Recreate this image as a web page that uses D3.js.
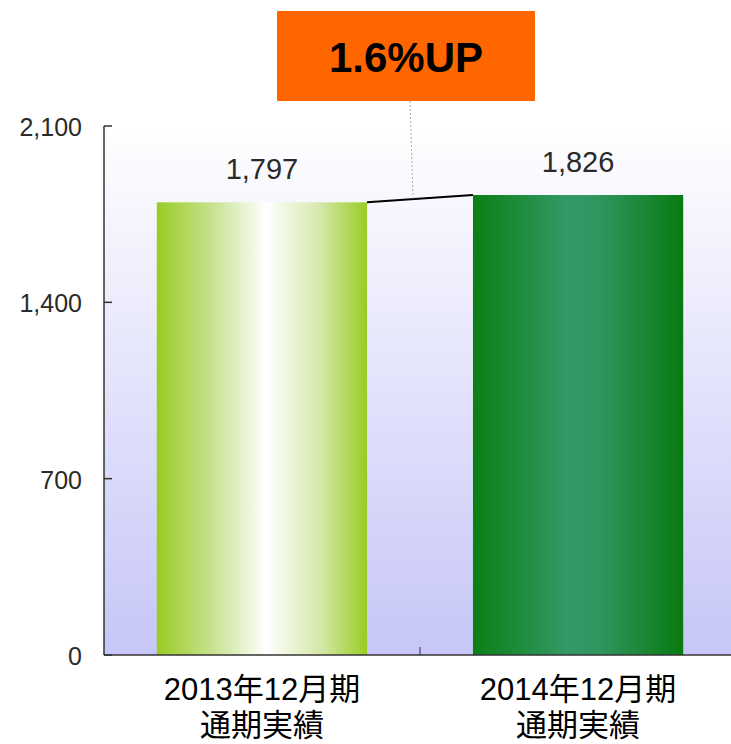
<!DOCTYPE html>
<html>
<head>
<meta charset="utf-8">
<script src="https://cdn.jsdelivr.net/npm/d3@7"></script>
<style>
  body { margin: 0; background: #fff; }
  svg { display: block; }
</style>
</head>
<body>
<div id="myGraph"></div>
<script>
// データ
var categories = ["2013年12月期\n通期実績", "2014年12月期\n通期実績"];
var values = [1797, 1826];
var valueLabels = ["1,797", "1,826"];
var tickValues = [0, 700, 1400, 2100];
var badgeText = "1.6%UP";

var width = 731, height = 744;
var x0 = 104, x1 = 736, yTop = 126, yBottom = 655;

var svg = d3.select("#myGraph").append("svg")
    .attr("width", width)
    .attr("height", height);

var x = d3.scaleBand().domain(categories).range([x0, x1]).paddingInner(0.335).paddingOuter(0.167);
var y = d3.scaleLinear().domain([0, 2100]).range([yBottom, yTop]);

var defs = svg.append("defs");
var bg = defs.append("linearGradient").attr("id", "bg").attr("x1", 0).attr("y1", 0).attr("x2", 0).attr("y2", 1);
bg.append("stop").attr("offset", "0%").attr("stop-color", "#ffffff");
bg.append("stop").attr("offset", "100%").attr("stop-color", "#c6c6f8");

var g1 = defs.append("linearGradient").attr("id", "bar0");
g1.append("stop").attr("offset", "0%").attr("stop-color", "#99cc22");
g1.append("stop").attr("offset", "25%").attr("stop-color", "#c4e08a");
g1.append("stop").attr("offset", "52%").attr("stop-color", "#ffffff");
g1.append("stop").attr("offset", "78%").attr("stop-color", "#d4e8a8");
g1.append("stop").attr("offset", "100%").attr("stop-color", "#99cc22");

var g2 = defs.append("linearGradient").attr("id", "bar1");
g2.append("stop").attr("offset", "0%").attr("stop-color", "#0b7f14");
g2.append("stop").attr("offset", "45%").attr("stop-color", "#339966");
g2.append("stop").attr("offset", "60%").attr("stop-color", "#31955f");
g2.append("stop").attr("offset", "100%").attr("stop-color", "#087a10");

// 背景
svg.append("rect")
    .attr("x", x0).attr("y", yTop)
    .attr("width", width - x0).attr("height", yBottom - yTop)
    .attr("fill", "url(#bg)");

// 棒
svg.selectAll(".bar")
    .data(values)
    .enter().append("rect")
    .attr("class", "bar")
    .attr("x", function(d, i) { return x(categories[i]); })
    .attr("y", function(d) { return y(d); })
    .attr("width", x.bandwidth())
    .attr("height", function(d) { return y(0) - y(d); })
    .attr("fill", function(d, i) { return "url(#bar" + i + ")"; });

// 値ラベル
svg.selectAll(".val")
    .data(values)
    .enter().append("text")
    .attr("x", function(d, i) { return x(categories[i]) + x.bandwidth() / 2; })
    .attr("y", function(d) { return y(d) - 23; })
    .attr("text-anchor", "middle")
    .attr("font-family", "Liberation Sans, sans-serif")
    .attr("font-size", 29)
    .attr("fill", "#2a2a2a")
    .text(function(d, i) { return valueLabels[i]; });

// y軸
var yAxis = svg.append("g");
yAxis.append("line").attr("x1", x0).attr("x2", x0).attr("y1", yTop).attr("y2", yBottom)
    .attr("stroke", "#333").attr("stroke-width", 1.5);
yAxis.selectAll(".tk").data(tickValues).enter().append("line")
    .attr("x1", x0).attr("x2", x0 + 8)
    .attr("y1", function(d) { return y(d); }).attr("y2", function(d) { return y(d); })
    .attr("stroke", "#333").attr("stroke-width", 1.5);
yAxis.selectAll(".tl").data(tickValues).enter().append("text")
    .attr("x", 82).attr("y", function(d) { return y(d) + 10; })
    .attr("text-anchor", "end")
    .attr("font-family", "Liberation Sans, sans-serif")
    .attr("font-size", 25)
    .attr("fill", "#2a2a2a")
    .text(function(d) { return d3.format(",")(d); });

// x軸
svg.append("line").attr("x1", x0).attr("x2", width).attr("y1", yBottom).attr("y2", yBottom)
    .attr("stroke", "#333").attr("stroke-width", 1.5);
svg.append("line")
    .attr("x1", x(categories[1]) - x.step() * x.paddingInner() / 2)
    .attr("x2", x(categories[1]) - x.step() * x.paddingInner() / 2)
    .attr("y1", yBottom).attr("y2", yBottom - 8)
    .attr("stroke", "#333").attr("stroke-width", 1);

var xl = svg.selectAll(".xl").data(categories).enter().append("text")
    .attr("text-anchor", "middle")
    .attr("font-family", "Liberation Sans, Noto Sans CJK JP, sans-serif")
    .attr("font-size", 31)
    .attr("fill", "#000");
xl.each(function(d) {
    var t = d3.select(this), cx = x(d) + x.bandwidth() / 2;
    d.split("\n").forEach(function(line, j) {
        t.append("tspan").attr("x", cx).attr("y", 700 + j * 36).text(line);
    });
});

// 増加ライン
svg.append("line")
    .attr("x1", x(categories[0]) + x.bandwidth()).attr("y1", y(values[0]))
    .attr("x2", x(categories[1])).attr("y2", y(values[1]))
    .attr("stroke", "#000").attr("stroke-width", 2);

var midX = (x(categories[0]) + x.bandwidth() + x(categories[1])) / 2;
svg.append("line")
    .attr("x1", 410).attr("y1", 101)
    .attr("x2", midX - 7).attr("y2", (y(values[0]) + y(values[1])) / 2)
    .attr("stroke", "#aaa").attr("stroke-width", 1).attr("stroke-dasharray", "2,2");

// バッジ
svg.append("rect").attr("x", 277).attr("y", 11).attr("width", 258).attr("height", 90).attr("fill", "#ff6600");
svg.append("text").attr("x", 406).attr("y", 72)
    .attr("text-anchor", "middle")
    .attr("font-family", "Liberation Sans, Arial, sans-serif")
    .attr("font-size", 42).attr("font-weight", "bold").attr("fill", "#000")
    .text(badgeText);
</script>
</body>
</html>
